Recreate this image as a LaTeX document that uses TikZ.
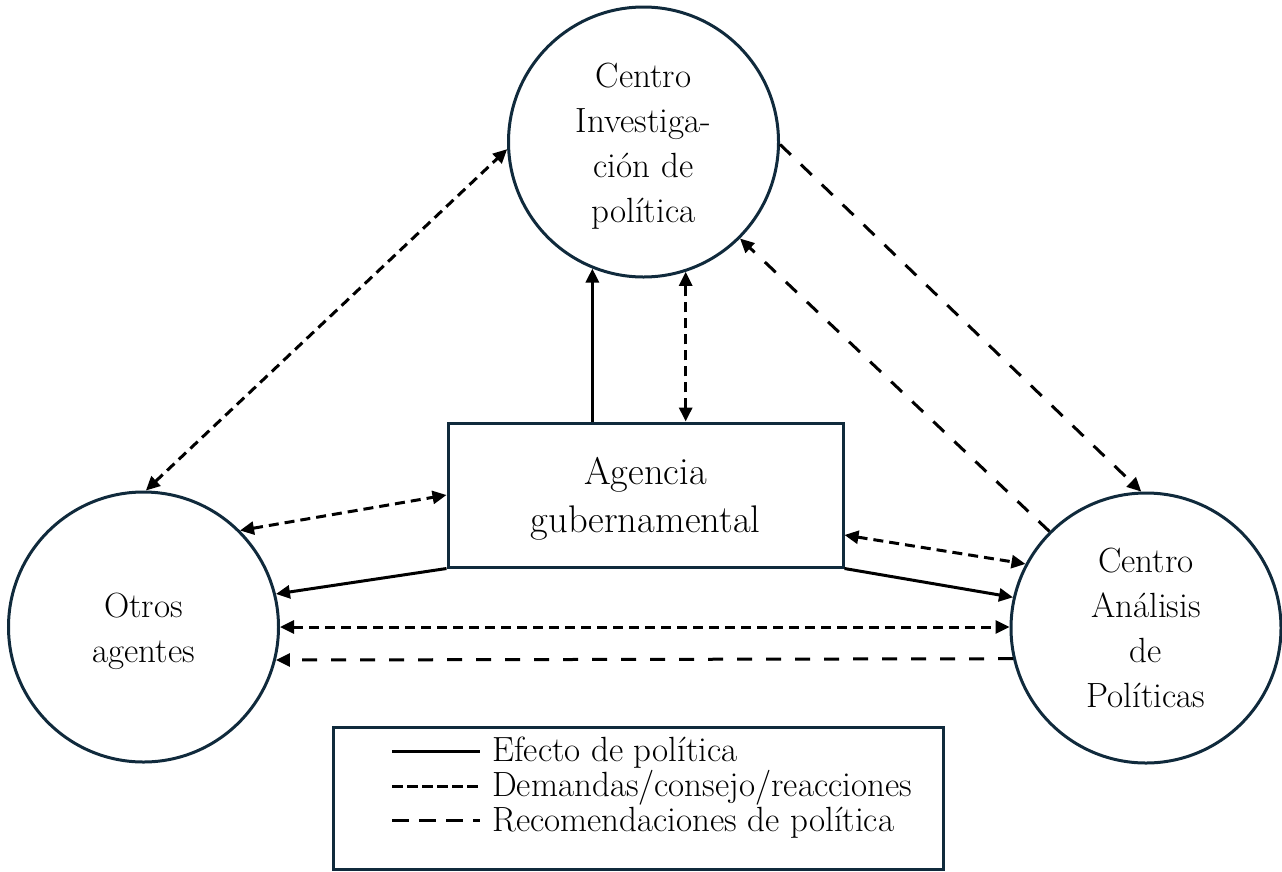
\documentclass[tikz,border=0pt]{standalone}
\usepackage{fontspec}
\usetikzlibrary{arrows.meta,calc}
\definecolor{rim}{RGB}{16,42,60}
\begin{document}
\begin{tikzpicture}[x=1pt,y=-1pt,
  >={Triangle[length=14pt,width=13pt]},
  agent/.style={circle, draw=rim, line width=3pt, minimum size=270pt, inner sep=0pt},
  agency/.style={rectangle, draw=rim, line width=3pt, minimum width=395pt, minimum height=144pt, inner sep=0pt},
  keybox/.style={rectangle, draw=rim, line width=3pt, minimum width=610pt, minimum height=142pt, inner sep=0pt},
  lbl/.style={align=center, inner sep=0pt, font=\fontsize{35}{45}\selectfont},
  keytext/.style={anchor=base west, inner sep=0pt, font=\fontsize{35}{35}\selectfont},
  effect/.style={line width=3pt, black},
  demand/.style={line width=3pt, black, dash pattern=on 10pt off 6pt},
  advice/.style={line width=3pt, black, dash pattern=on 15pt off 14pt},
]
\useasboundingbox (0,0) rectangle (1282,871);

% actors
\node[agent] (cinv) at (643.5,142) {};
\node[agent] (otros) at (143.5,627) {};
\node[agent] (canal) at (1146,628) {};
\node[agency] (agencia) at (645.5,495) {};

\node[lbl] at ($(cinv.center)+(0,4)$) {Centro\\Investiga-\\ción de\\política};
\node[lbl] at ($(otros.center)+(0,4)$) {Otros\\agentes};
\node[lbl] at (canal.center) {Centro\\Análisis\\de\\Políticas};
\node[lbl, font=\fontsize{38.5}{48}\selectfont] at ($(agencia.center)+(0,4)$) {Agencia\\gubernamental};

% flows
\draw[demand,<->] (otros.89) -- (cinv.183);
\draw[demand,<->] (otros.45) -- (agencia.west);
\draw[effect,->] (agencia.south west) -- (otros.14);
\draw[demand,<->] (otros.east) -- (otros.east -| canal.west);
\draw[advice,->] (canal.193) -- (otros.-14);
\draw[effect,->] (agencia.south east) -- (canal.167);
\draw[demand,<->] ($(agencia.east)+(0,40)$) -- (canal.152);
\draw[effect,->] (cinv.248 |- agencia.north) -- (cinv.248);
\draw[demand,<->] (cinv.288 |- agencia.north) -- (cinv.288);
\draw[advice,->] (cinv.359) -- (canal.92);
\draw[advice,->] (canal.135) -- (cinv.315);

% key
\node[keybox] (key) at (638,798) {};
\coordinate (k1a) at (392,751); \coordinate (k1b) at (480,751);
\coordinate (k2a) at (392,786); \coordinate (k2b) at (480,786);
\coordinate (k3a) at (392,820); \coordinate (k3b) at (480,820);
\draw[effect] (k1a) -- (k1b);
\draw[demand, dash pattern=on 11pt off 4pt] (k2a) -- (k2b);
\draw[advice, dash pattern=on 17pt off 10pt] (k3a) -- (k3b);
\node[keytext] at (492,761) {Efecto de política};
\node[keytext] at (492,796) {Demandas/consejo/reacciones};
\node[keytext] at (492,831) {Recomendaciones de política};
\end{tikzpicture}
\end{document}
